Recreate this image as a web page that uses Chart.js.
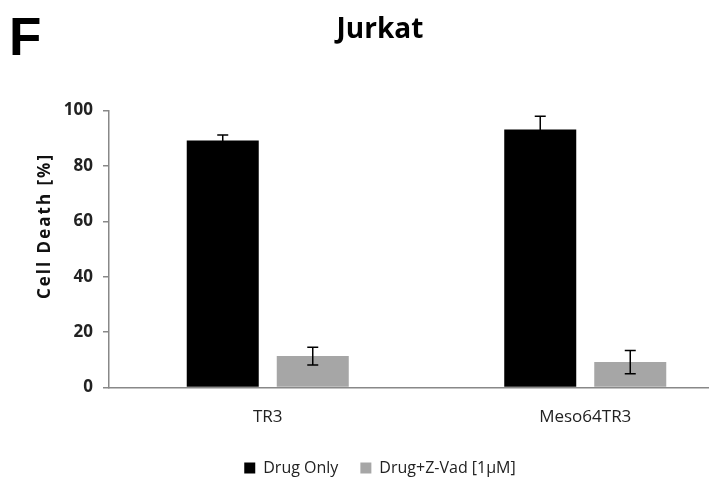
<!DOCTYPE html>
<html>
<head>
<meta charset="utf-8">
<script src="https://cdn.jsdelivr.net/npm/chart.js@4"></script>
<style>
    html, body { margin: 0; padding: 0; background: #fff; overflow: hidden; }
    #wrap { position: relative; width: 744px; height: 480px; }
    #panel { position: absolute; left: 9px; top: 10px; font: bold 53px "Liberation Sans", Arial, sans-serif; line-height: 53px; color: #000; }
</style>
</head>
<body>
<div id="wrap">
    <canvas id="deathChart" width="744" height="480"></canvas>
    <div id="panel">F</div>
</div>
<script>
const cellLines = ['TR3', 'Meso64TR3'];
const seriesNames = ['Drug Only', 'Drug+Z-Vad [1\u00b5M]'];
const drugOnly = [89.2, 93.2];
const drugOnlyErr = [2.0, 4.8];
const drugZVad = [11.4, 9.2];
const drugZVadErr = [3.2, 4.2];
const yTicks = [0, 20, 40, 60, 80, 100];

const FONT = '"Open Sans", "DejaVu Sans", sans-serif';

// error bars + rotated y title
const extras = {
    id: 'extras',
    afterDatasetsDraw(chart) {
        const ctx = chart.ctx;
        const y = chart.scales.y;
        ctx.save();
        ctx.strokeStyle = '#000';
        ctx.lineWidth = 1.5;
        chart.data.datasets.forEach((ds, i) => {
            const meta = chart.getDatasetMeta(i);
            meta.data.forEach((bar, j) => {
                const v = ds.data[j], e = ds.errors[j];
                const top = y.getPixelForValue(v + e);
                const bot = y.getPixelForValue(v - e);
                ctx.beginPath();
                ctx.moveTo(bar.x, top); ctx.lineTo(bar.x, bot);
                ctx.moveTo(bar.x - 5.5, top); ctx.lineTo(bar.x + 5.5, top);
                ctx.moveTo(bar.x - 5.5, bot); ctx.lineTo(bar.x + 5.5, bot);
                ctx.stroke();
            });
        });
        ctx.restore();
    },
    afterDraw(chart) {
        const ctx = chart.ctx;
        ctx.save();
        ctx.translate(45.5, 226);
        ctx.rotate(-Math.PI / 2);
        ctx.font = 'bold 17px ' + FONT;
        if ('letterSpacing' in ctx) ctx.letterSpacing = '2px';
        ctx.fillStyle = '#111';
        ctx.textAlign = 'center';
        ctx.textBaseline = 'middle';
        ctx.fillText('Cell Death [%]', 0, 0);
        ctx.restore();
    }
};

new Chart(document.getElementById('deathChart'), {
    type: 'bar',
    data: {
        labels: cellLines,
        datasets: [
            { label: seriesNames[0], data: drugOnly, errors: drugOnlyErr, backgroundColor: '#000000', borderWidth: 0 },
            { label: seriesNames[1], data: drugZVad, errors: drugZVadErr, backgroundColor: '#a6a6a6', borderWidth: 0 }
        ]
    },
    options: {
        responsive: false,
        animation: false,
        categoryPercentage: 0.567,
        barPercentage: 0.8,
        layout: { padding: { left: 16, right: 0, top: 0, bottom: -6 } },
        scales: {
            x: {
                grid: { display: false },
                border: { display: true, color: '#888', width: 1.5 },
                ticks: { color: '#222', font: { family: FONT, size: 17 }, padding: 11 }
            },
            y: {
                min: 0,
                max: 100,
                afterBuildTicks: s => { s.ticks = yTicks.map(v => ({ value: v })); },
                afterFit: s => { s.width = 109 - 16; },
                grid: { drawOnChartArea: false, tickLength: 6, color: '#888', lineWidth: 1.5 },
                border: { display: true, color: '#888', width: 1.5 },
                ticks: { color: '#222', font: { family: FONT, size: 17, weight: 'bold' }, padding: 10 }
            }
        },
        plugins: {
            title: {
                display: true,
                text: 'Jurkat',
                color: '#000',
                font: { family: FONT, size: 28, weight: 'bold' },
                padding: { top: 13, bottom: 64 }
            },
            legend: {
                position: 'bottom',
                labels: {
                    boxWidth: 11,
                    boxHeight: 11,
                    padding: 22,
                    color: '#222',
                    font: { family: FONT, size: 16 }
                }
            },
            tooltip: { enabled: false }
        }
    },
    plugins: [extras]
});
</script>
</body>
</html>
